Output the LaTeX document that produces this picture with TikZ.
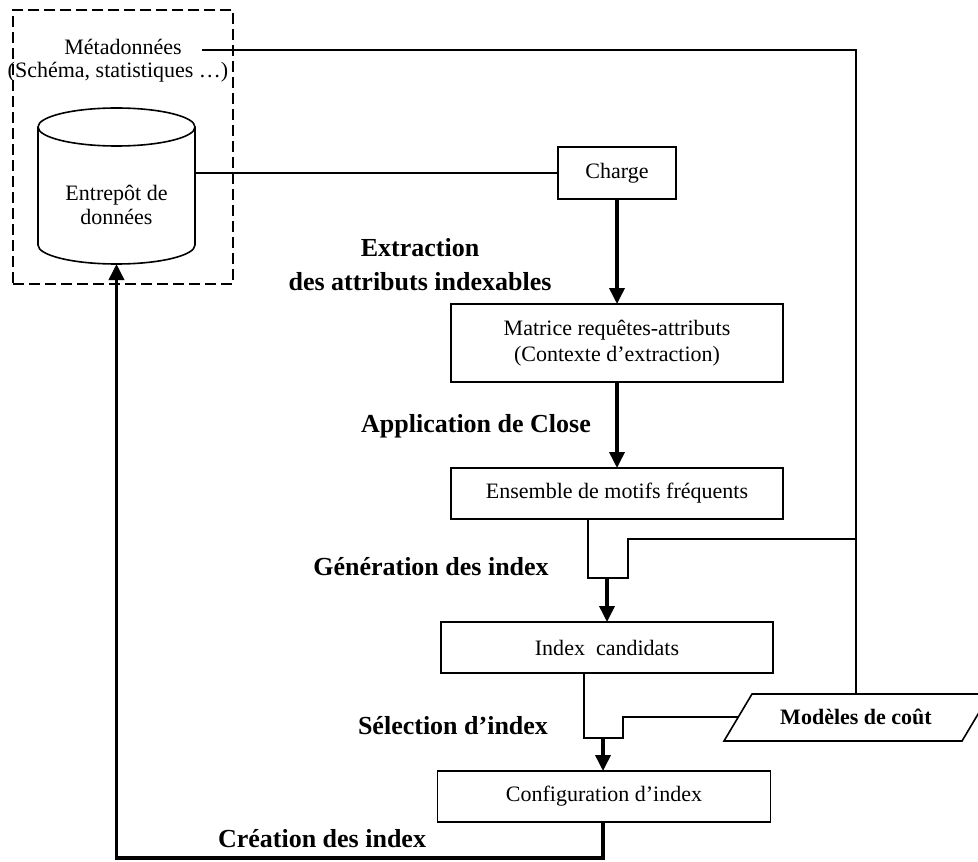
\documentclass[tikz,border=0pt]{standalone}
\usepackage{fontspec}
\setmainfont{Liberation Serif}
\usetikzlibrary{positioning,arrows.meta}

\tikzset{
  txt/.style={inner sep=0pt, align=center, font=\fontsize{11}{12}\selectfont},
  box/.style={draw, line width=0.8pt, inner sep=0pt, outer sep=0pt, align=center, font=\fontsize{11}{13}\selectfont},
  lbl/.style={inner sep=0pt, align=center, font=\bfseries\fontsize{13}{17}\selectfont},
  link/.style={line width=0.8pt},
  flow/.style={line width=1.8pt, -{Triangle[length=8pt,width=7.5pt]}},
}

\begin{document}
\begin{tikzpicture}[x=0.5pt,y=-0.5pt]
            \useasboundingbox (0,0) rectangle (978,861);
            \node[draw, dash pattern=on 5.5pt off 2.5pt, line width=1.1pt, inner sep=0pt, outer sep=0pt,
                  minimum width=110pt, minimum height=137pt] (wh) at (123,147) {};
            \node[txt] (meta) at (123,47) {Métadonnées};
            \node[txt] (stats) at (118,72) {(Schéma, statistiques …)};
            \draw[link] (38,127) -- (38,245) arc[start angle=180, end angle=360, x radius=39.25pt, y radius=9.5pt] -- (195,127);
            \draw[link] (116.5,127) ellipse[x radius=39.25pt, y radius=9.5pt];
            \node[txt] (dw) at (116.5,205) {Entrepôt de\\données};
            \coordinate (dwr) at (195,173);
            \coordinate (dwb) at (116.5,264);

            \node[box, minimum width=59pt, minimum height=26pt] (charge) at (617,173) {Charge};
            \node[box, minimum width=166pt, minimum height=39pt, below=52.5pt of charge] (mat) {Matrice requêtes-attributs\\(Contexte d’extraction)};
            \node[box, minimum width=166pt, minimum height=25.5pt, below=43pt of mat] (ens) {Ensemble de motifs fréquents};
            \node[box, minimum width=166pt, minimum height=25.5pt, below=51.5pt of ens, xshift=-5pt] (cand) {Index\ \ candidats};
            \node[box, minimum width=166.5pt, minimum height=25.5pt, below=49pt of cand, xshift=-1.5pt] (conf) {Configuration d’index};

            \draw[link] (724,741) -- (752,694) -- (990,694) -- (962,741) -- cycle;
            \node[inner sep=0pt, font=\bfseries\fontsize{11}{13}\selectfont] (cost) at (856,717) {Modèles de coût};
            \coordinate (costtop) at (856,694);
            \coordinate (costin) at (738,717);

            \node[lbl] (extr) at (420,265) {Extraction\\des attributs indexables};
            \node[lbl] (clos) at (476,426) {Application de Close};
            \node[lbl] (gen) at (431,567) {Génération des index};
            \node[lbl] (sel) at (453,726) {Sélection d’index};
            \node[lbl] (crea) at (322,839) {Création des index};

            \coordinate (ml) at (202,50);
            \coordinate (mr) at (856,50);
            \coordinate (gl) at (588,578);
            \coordinate (gr) at (628,578);
            \coordinate (gm) at (607,578);
            \coordinate (gt) at (628,539);
            \coordinate (sl) at (584,738);
            \coordinate (sr) at (623,738);
            \coordinate (sm) at (603,738);
            \coordinate (bot) at (603,858);

            \draw[link] (ml) -- (mr) -- (costtop);
            \draw[link] (dwr) -- (charge.west);
            \draw[flow] (charge) -- (mat);
            \draw[flow] (mat) -- (ens);
            \draw[link] (ens.south -| gl) -- (gl) -- (gr) -- (gt) -- (gt -| mr);
            \draw[flow] (gm) -- (cand.north -| gm);
            \draw[link] (cand.south -| sl) -- (sl) -- (sr) -- (sr |- costin) -- (costin);
            \draw[flow] (sm) -- (conf.north -| sm);
            \draw[flow] (conf.south -| sm) -- (bot) -| (dwb);
        \end{tikzpicture}
\end{document}
